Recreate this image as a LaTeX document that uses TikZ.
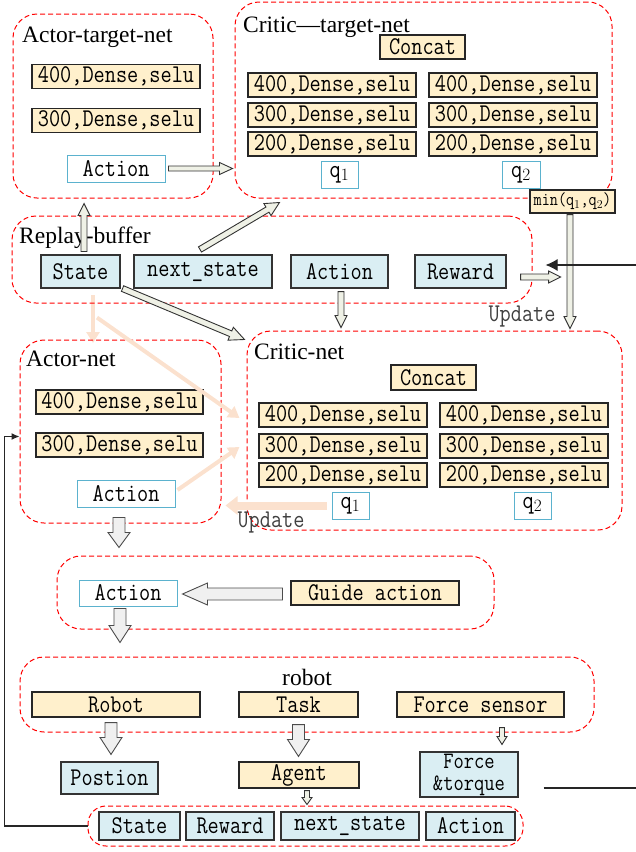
\documentclass[tikz,border=0pt]{standalone}
\usepackage{fontspec}
\setmainfont{Liberation Serif}
\newfontfamily\boxfont[FakeStretch=0.85]{Latin Modern Mono}
\usetikzlibrary{arrows.meta, calc}
\definecolor{layerfill}{HTML}{FFF0CC}
\definecolor{buffill}{HTML}{DAEEF3}
\definecolor{aqua}{HTML}{5BB2CE}
\definecolor{peach}{HTML}{FBE1CE}
\definecolor{arrfill}{HTML}{EFF1E6}
\tikzset{
	group/.style={draw=red, line width=1pt, dash pattern=on 5pt off 3pt, rounded corners=24pt},
	layer/.style={rectangle, draw=black!85, fill=layerfill, line width=1.1pt, inner sep=0pt, minimum height=24pt, font=\fontsize{25.5}{28}\boxfont},
	buf/.style={rectangle, draw=black!80, fill=buffill, line width=1.1pt, inner sep=0pt, minimum height=28pt, font=\fontsize{25.5}{28}\boxfont},
	outp/.style={rectangle, draw=aqua, fill=white, line width=1pt, inner sep=0pt, minimum height=27pt, font=\fontsize{25.5}{28}\boxfont},
	title/.style={anchor=base west, inner sep=0pt, font=\fontsize{23.5}{26}\selectfont},
	blockarr/.style={draw=black!80, fill=arrfill, line width=0.9pt},
	bigarr/.style={draw=black!70, fill=gray!12, line width=0.9pt},
	fade/.style={draw=peach, line width=4pt, -{Triangle[length=11pt,width=13pt]}},
	fb/.style={draw=black!85, line width=1.1pt}
}
% block arrow: [style] {start} {end} {half shaft} {half head} {head length}
\newcommand{\blockarrow}[6][]{
	\coordinate (bas) at #2;
	\coordinate (bae) at #3;
	\coordinate (ban) at ($(bae)!#6!(bas)$);
	\filldraw[blockarr,#1] ($(bas)!#4!90:(bae)$) -- ($(ban)!#4!90:(bae)$) -- ($(ban)!#5!90:(bae)$) -- (bae)
		-- ($(ban)!#5!-90:(bae)$) -- ($(ban)!#4!-90:(bae)$) -- ($(bas)!#4!-90:(bae)$) -- cycle;
}

\begin{document}
\begin{tikzpicture}[x=1pt, y=-1pt]
	\useasboundingbox (0,0) rectangle (636,852);
	
	% --- Faded links ---
	\draw[fade] (93,295) -- (93,343);
	
	% --- Groups ---
	\node[group, minimum width=200pt, minimum height=184pt] (atbox) at (113,106) {};
	\node[group, minimum width=377pt, minimum height=196pt] (ctbox) at (423.5,100) {};
	\node[group, minimum width=520pt, minimum height=87pt] (rbbox) at (272,259.5) {};
	\node[group, minimum width=201pt, minimum height=183pt] (anbox) at (120.5,431.5) {};
	\node[group, minimum width=375pt, minimum height=199pt] (cnbox) at (434.5,430.5) {};
	\node[group, minimum width=437pt, minimum height=73pt] (gbox) at (275.5,592.5) {};
	\node[group, minimum width=574pt, minimum height=75pt] (rbox) at (307,694.5) {};
	\node[group, rounded corners=18pt, minimum width=435pt, minimum height=40pt] (btbox) at (305.5,826) {};
	
	% --- Titles ---
	\node[title] (attitle) at (22,42) {Actor-target-net};
	\node[title] (cttitle) at (243,32) {Critic—target-net};
	\node[title] (rbtitle) at (19,243) {Replay-buffer};
	\node[title] (antitle) at (26,366) {Actor-net};
	\node[title] (cntitle) at (254,359) {Critic-net};
	\node[title, anchor=base] (rtitle) at (307,685) {robot};
	
	% --- Actor-target-net ---
	\node[layer, minimum width=168pt] (atl1) at (116,76.5) {400,Dense,selu};
	\node[layer, minimum width=168pt] (atl2) at (116,120.5) {300,Dense,selu};
	\node[outp, minimum width=98pt] (atact) at (116,168.5) {Action};
	
	% --- Critic-target-net ---
	\node[layer, minimum width=85pt] (ctcat) at (422.5,47) {Concat};
	\foreach \r/\n/\y in {1/400/85, 2/300/115, 3/200/144} {
		\node[layer, minimum width=168pt] (ctl\r) at (332,\y) {\n,Dense,selu};
		\node[layer, minimum width=168pt] (ctr\r) at (513,\y) {\n,Dense,selu};
	}
	\node[outp, minimum width=37pt] (ctq1) at (339.5,174.5) {q$_1$};
	\node[outp, minimum width=38pt] (ctq2) at (521,174.5) {q$_2$};
	\node[layer, minimum width=85pt, minimum height=23pt, font=\fontsize{18.5}{20}\boxfont] (minq) at (572.5,201.5) {min(q$_1$,q$_2$)};
	
	% --- Replay-buffer ---
	\node[buf, minimum width=79pt, minimum height=33pt] (rbstate) at (80.5,271.5) {State};
	\node[buf, minimum width=138pt, minimum height=33pt] (rbnext) at (203,271.5) {next\_state};
	\node[buf, minimum width=97pt, minimum height=33pt] (rbact) at (339.5,271.5) {Action};
	\node[buf, minimum width=91pt, minimum height=33pt] (rbrew) at (460.5,271.5) {Reward};
	
	% --- Actor-net ---
	\node[layer, minimum width=167pt] (anl1) at (119.5,402) {400,Dense,selu};
	\node[layer, minimum width=167pt] (anl2) at (119.5,445) {300,Dense,selu};
	\node[outp, minimum width=98pt] (anact) at (126,493.5) {Action};
	
	% --- Critic-net ---
	\node[layer, minimum width=85pt, minimum height=25pt] (cncat) at (433.5,377.5) {Concat};
	\foreach \r/\n/\y in {1/400/415, 2/300/446, 3/200/475} {
		\node[layer, minimum width=168pt] (cnl\r) at (343,\y) {\n,Dense,selu};
		\node[layer, minimum width=168pt] (cnr\r) at (524,\y) {\n,Dense,selu};
	}
	\node[outp, minimum width=37pt] (cnq1) at (350.5,505.5) {q$_1$};
	\node[outp, minimum width=37pt] (cnq2) at (532.5,505.5) {q$_2$};
	
	% --- Guide action ---
	\node[outp, minimum width=98pt, minimum height=26pt] (gact) at (128,593) {Action};
	\node[layer, minimum width=168pt] (gguide) at (375,593) {Guide action};
	
	% --- robot ---
	\node[layer, minimum width=168pt, minimum height=25pt] (rrobot) at (116,704.5) {Robot};
	\node[layer, minimum width=119pt, minimum height=25pt] (rtask) at (298.5,704.5) {Task};
	\node[layer, minimum width=167pt, minimum height=25pt] (rsensor) at (480.5,704.5) {Force sensor};
	\node[buf, minimum width=97pt, minimum height=32pt] (rpos) at (109.5,778) {Postion};
	\node[layer, minimum width=120pt, minimum height=26pt] (ragent) at (299,775) {Agent};
	\node[buf, minimum width=98pt, minimum height=45pt, align=center, font=\fontsize{23.5}{22}\boxfont] (rft) at (469,774.5) {Force\\\&torque};
	
	% --- Bottom buffer ---
	\node[buf, minimum width=81pt] (btstate) at (139.5,826) {State};
	\node[buf, minimum width=88pt] (btrew) at (230,826) {Reward};
	\node[buf, minimum width=138pt] (btnext) at (350,826) {next\_state};
	\node[buf, minimum width=89pt] (btact) at (470.5,826) {Action};
	
	% --- Faded links ---
	\draw[fade] ($(rbstate.south)+(16.5,29)$) -- ($(cnl1.west)+(-19,3)$);
	\draw[fade] ($(anact.east)+(2,-3.5)$) -- ($(cnl2.west)+(-19,1)$);
	\draw[fade, line width=8pt, -{Triangle[length=12pt,width=18pt]}] ($(cnq1.west)+(-5,0)$) -- ($(anbox.east)+(4,74)$);
	
	% --- Update labels ---
	\node[font=\fontsize{25.5}{28}\boxfont, text=black!75, inner sep=0pt] (upd1) at (522,317) {Update};
	\node[font=\fontsize{25.5}{28}\boxfont, text=black!75, inner sep=0pt] (upd2) at (271,523) {Update};
	
	% --- Thin block arrows ---
	\blockarrow{($(atact.east)+(3,0)$)}{($(ctbox.west |- atact.east)+(-2,0)$)}{2.5pt}{6pt}{13pt}
	\blockarrow{($(rbstate.north)+(3.5,-3)$)}{($(rbstate.north |- atbox.south)+(3.5,5)$)}{3pt}{6pt}{12pt}
	\blockarrow{($(rbnext.north)+(-3,-5)$)}{($(ctbox.south west)+(45,4)$)}{3pt}{7pt}{14pt}
	\blockarrow{($(rbstate.south east)+(2,0)$)}{($(cnbox.north west)+(-2,9)$)}{3pt}{7pt}{15pt}
	\blockarrow{($(rbact.south)+(1.5,3)$)}{($(rbact.south |- cnbox.north)+(1.5,-3)$)}{3pt}{6pt}{12pt}
	\blockarrow{($(rbrew.east)+(14,5.5)$)}{($(rbrew.east)+(54,5.5)$)}{3pt}{6pt}{12pt}
	\blockarrow{($(minq.south)+(-2.5,1)$)}{($(minq.south |- cnbox.north)+(-2.5,-2)$)}{3pt}{6pt}{12pt}
	\blockarrow{($(rsensor.south)+(21.5,10)$)}{($(rft.north)+(33,-7)$)}{2.5pt}{5pt}{8pt}
	\blockarrow{($(ragent.south)+(8,2)$)}{($(ragent.south |- btbox.north)+(8,-1)$)}{2.5pt}{5pt}{7pt}
	
	% --- Big block arrows ---
	\blockarrow[bigarr]{($(anbox.south)+(-1.5,-6)$)}{($(anbox.south |- gbox.north)+(-1.5,-8)$)}{6pt}{11pt}{15pt}
	\blockarrow[bigarr]{($(gguide.west)+(-8,1)$)}{($(gact.east)+(5,1)$)}{6pt}{11pt}{25pt}
	\blockarrow[bigarr]{($(gact.south)+(-8,2)$)}{($(gact.south |- rbox.north)+(-8,-14)$)}{6pt}{11pt}{17pt}
	\blockarrow[bigarr]{($(rrobot.south)+(-5,5)$)}{($(rpos.north)+(1.5,-7)$)}{6pt}{11pt}{17pt}
	\blockarrow[bigarr]{($(rtask.south)+(0,7)$)}{($(ragent.north)+(-0.5,-5)$)}{6pt}{11pt}{17pt}
	
	% --- Feedback lines ---
	\coordinate (fin) at (636,265);
	\draw[fb, -{Latex[length=12pt,width=12pt]}] (fin) -- ($(rbrew.east)+(39,-6.5)$);
	\coordinate (fout) at (636,788);
	\draw[fb] ($(rft.east)+(25,13.5)$) -- (fout);
	\draw[fb, -{Latex[length=8pt,width=7pt]}] (btbox.west) -- ++(-83,0) |- ($(anbox.west)+(0,5)$);
	
\end{tikzpicture}
\end{document}
